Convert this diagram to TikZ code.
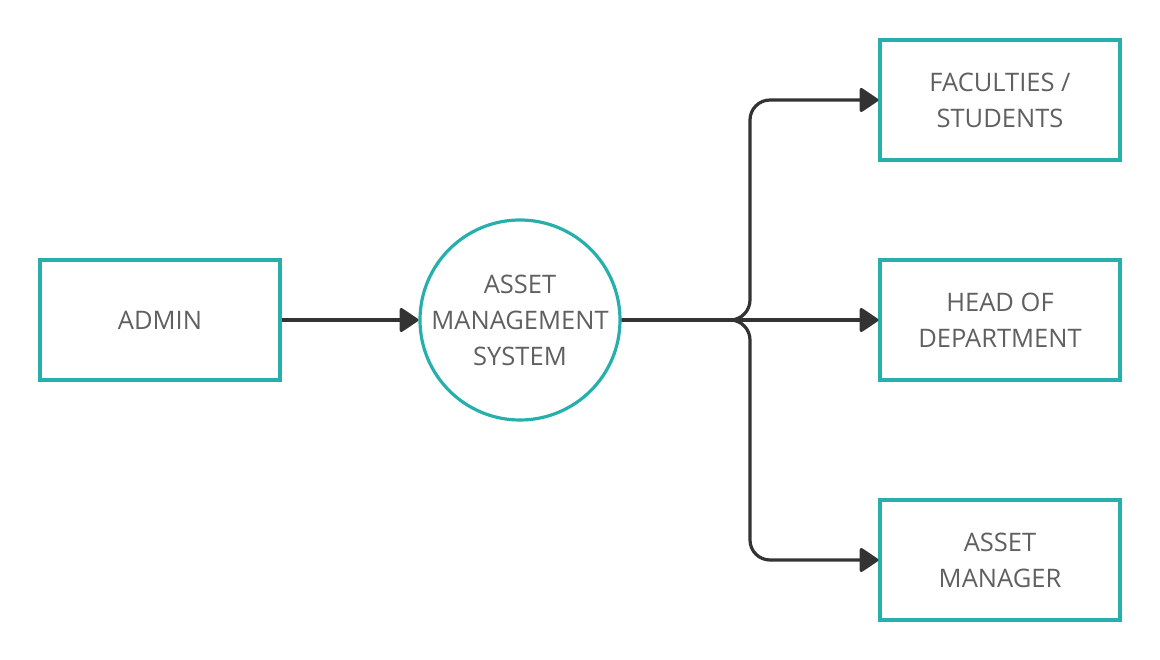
\documentclass[tikz,border=0pt]{standalone}
\usepackage{fontspec}
\setmainfont{Open Sans}
\usetikzlibrary{arrows.meta}
\definecolor{teal1}{HTML}{26AFAB}
\definecolor{txt}{HTML}{606060}
\definecolor{ln}{HTML}{333333}
\tikzset{
  entity/.style={draw=teal1, line width=3.2pt, minimum width=240pt, minimum height=120pt, inner sep=0pt, text=txt, align=center, font=\fontsize{25.5}{36}\selectfont},
  proc/.style={draw=teal1, line width=3.2pt, circle, minimum size=200pt, inner sep=0pt, text=txt, align=center, font=\fontsize{25.5}{36}\selectfont},
  flow/.style={draw=ln, line width=3.2pt, rounded corners=20pt, -{Triangle[length=20pt,width=26pt,round]}}
}
\begin{document}
\begin{tikzpicture}[x=1pt,y=-1pt]
\useasboundingbox (0,0) rectangle (1160,660);
\node[entity] (admin) at (160,320) {ADMIN};
\node[proc] (ams) at (520,320) {ASSET\\MANAGEMENT\\SYSTEM};
\node[entity] (fac) at (1000,100) {FACULTIES /\\STUDENTS};
\node[entity] (hod) at (1000,320) {HEAD OF\\DEPARTMENT};
\node[entity] (am) at (1000,560) {ASSET\\MANAGER};
\coordinate (br) at (750,320);
\draw[flow] (admin.east) -- (ams.west);
\draw[flow] (ams.east) -- (hod.west);
\draw[flow] (ams.east) -- (br) |- (fac.west);
\draw[flow] (ams.east) -- (br) |- (am.west);
\end{tikzpicture}
\end{document}
